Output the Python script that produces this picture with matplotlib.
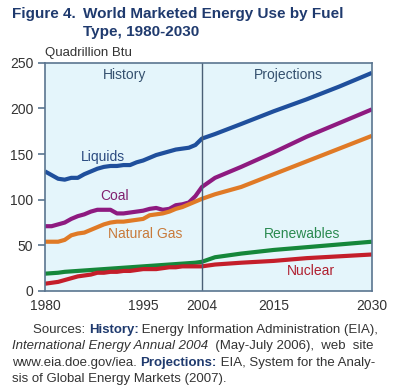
import matplotlib.pyplot as plt

plt.rcParams["font.family"] = ["Liberation Sans", "DejaVu Sans"]

hist_years = list(range(1980, 2005))
proj_years = [2004, 2006, 2010, 2015, 2020, 2025, 2030]

liquids_hist = [131, 127, 123, 122, 124, 124, 128, 131, 134, 136, 137, 137, 138, 138,
                141, 143, 146, 149, 151, 153, 155, 156, 157, 160, 167]
coal_hist = [71, 71, 73, 75, 79, 82, 84, 87, 89, 89, 89, 85, 85, 86,
             87, 88, 90, 91, 89, 90, 94, 95, 97, 104, 114]
gas_hist = [54, 54, 54, 56, 61, 63, 64, 67, 70, 73, 75, 76, 76, 77,
            78, 79, 83, 84, 85, 87, 90, 92, 95, 98, 101]
renew_hist = [19, 19.5, 20, 21, 21.5, 22, 22.5, 23, 23.5, 24, 24.5, 25, 25.5, 26,
              26.5, 27, 27.5, 28, 28.5, 29, 29.5, 30, 30.5, 31, 32]
nuclear_hist = [8, 9, 10, 12, 14, 16, 17, 18, 20, 20, 21, 21, 22, 22,
                23, 24, 24, 24, 25, 26, 26, 27, 27, 27, 27]

liquids_proj = [167, 172, 183, 197, 210, 224, 239]
coal_proj = [114, 124, 136, 152, 169, 184, 199]
gas_proj = [101, 106, 114, 128, 142, 156, 170]
renew_proj = [32, 37, 41, 45, 48, 51, 54]
nuclear_proj = [27, 29, 31, 33, 36, 38, 40]

x_ticks = [1980, 1995, 2004, 2015, 2030]
y_ticks = [0, 50, 100, 150, 200, 250]

series = [
    ("Liquids", liquids_hist, liquids_proj, "#1f4f9c", "#2a4a80", 1988.9, 147),
    ("Coal", coal_hist, coal_proj, "#8e1a80", "#80206e", 1990.7, 104),
    ("Natural Gas", gas_hist, gas_proj, "#e07a26", "#c87a3a", 1995.3, 62),
    ("Renewables", renew_hist, renew_proj, "#15873a", "#2a8a50", 2019.3, 62),
    ("Nuclear", nuclear_hist, nuclear_proj, "#c41e2a", "#b02030", 2020.7, 22),
]

fig = plt.figure(figsize=(3.99, 3.88), dpi=100)
ax = fig.add_axes([0.113, 0.25, 0.819, 0.588])
ax.set_facecolor("#e4f5fb")

for name, h, p, col, lcol, tx, ty in series:
    ax.plot(hist_years + proj_years[1:], h + p[1:], color=col, lw=3,
            solid_capstyle="butt", solid_joinstyle="round")
    ax.text(tx, ty, name, color=lcol, fontsize=10, ha="center", va="center")

ax.axvline(2004, color="#4a5f75", lw=1)
ax.text(1992.2, 237, "History", color="#34506e", fontsize=10, ha="center", va="center")
ax.text(2017.2, 237, "Projections", color="#34506e", fontsize=10, ha="center", va="center")

ax.set_xlim(1980, 2030)
ax.set_ylim(0, 250)
ax.set_xticks(x_ticks)
ax.set_yticks(y_ticks)
for s in ax.spines.values():
    s.set_color("#5a7590")
    s.set_linewidth(1.2)
ax.tick_params(axis="both", colors="#5a7590", labelcolor="#333333", labelsize=10,
               length=5, width=1.2)
ax.tick_params(axis="x", length=0, pad=6)

ax.text(0, 1.015, "Quadrillion Btu", transform=ax.transAxes, fontsize=9.5,
        color="#333333", ha="left", va="bottom")

title_col = "#1f3a6e"
fig.text(12 / 399, 1 - 14 / 388, "Figure 4.", fontsize=11, fontweight="bold",
         color=title_col, va="center")
fig.text(83 / 399, 1 - 14 / 388, "World Marketed Energy Use by Fuel", fontsize=11,
         fontweight="bold", color=title_col, va="center")
fig.text(83 / 399, 1 - 32 / 388, "Type, 1980-2030", fontsize=11,
         fontweight="bold", color=title_col, va="center")


# source note, pieces chained one after another so styles can mix on a line
def chain(x, y, parts):
    last = None
    for txt, kw in parts:
        style = dict(fontsize=9.5, color="#333333", va="bottom", ha="left")
        style.update(kw)
        if last is None:
            last = fig.text(x, y, txt, **style)
        else:
            last = fig.add_artist(plt.Annotation(txt, xy=(1, 0), xycoords=last,
                                                 **style))


blue_bold = dict(color=title_col, fontweight="bold")
chain(33 / 399, 1 - 336 / 388, [("Sources: ", {}), ("History:", blue_bold),
                                (" Energy Information Administration (EIA),", {})])
chain(12 / 399, 1 - 352 / 388, [("International Energy Annual 2004", dict(style="italic")),
                                ("  (May-July 2006),  web  site", {})])
chain(12 / 399, 1 - 369 / 388, [("www.eia.doe.gov/iea. ", {}), ("Projections:", blue_bold),
                                (" EIA, System for the Analy-", {})])
chain(12 / 399, 1 - 385 / 388, [("sis of Global Energy Markets (2007).", {})])

fig.savefig("out.png", dpi=100)
